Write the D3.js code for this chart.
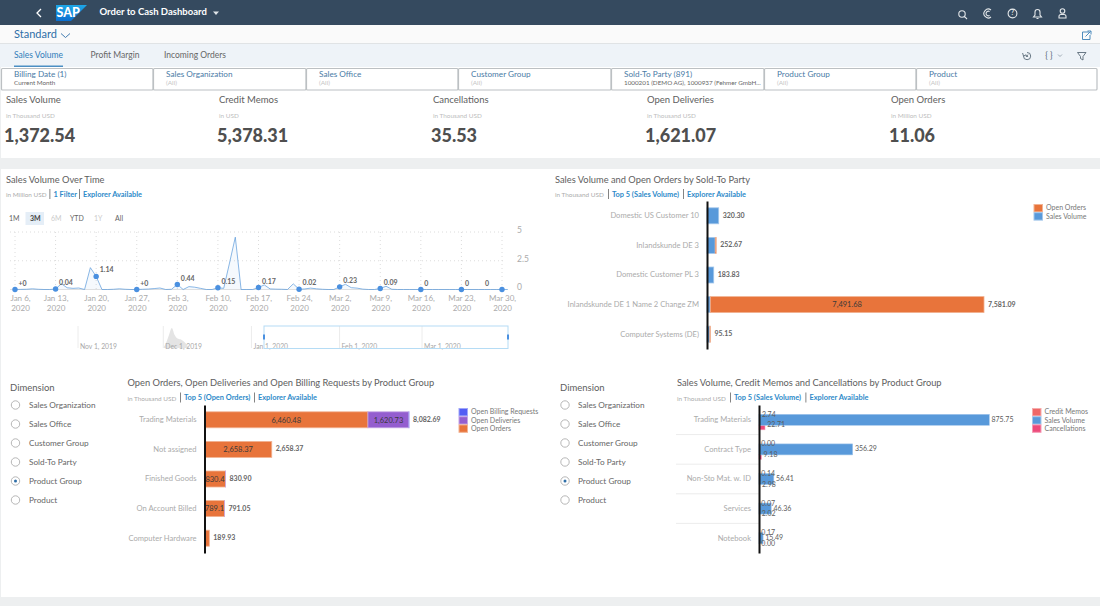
<!DOCTYPE html>
<html>
<head>
<meta charset="utf-8">
<script src="https://cdn.jsdelivr.net/npm/d3@7"></script>
<style>
  html, body { margin: 0; padding: 0; background: #fff; }
  svg { display: block; font-family: Lato, "Open Sans", sans-serif; }
</style>
</head>
<body>
<div id="page"></div>
<script>
// kpi row
const kpiTitles = ["Sales Volume", "Credit Memos", "Cancellations", "Open Deliveries", "Open Orders"];
const kpiUnits = ["in Thousand USD", "in USD", "in Thousand USD", "in Thousand USD", "in Million USD"];
const kpiValues = ["1,372.54", "5,378.31", "35.53", "1,621.07", "11.06"];

// filter bar
const filterNames = ["Billing Date (1)", "Sales Organization", "Sales Office", "Customer Group", "Sold-To Party (891)", "Product Group", "Product"];
const filterValues = ["Current Month", "(All)", "(All)", "(All)", "1000201 (DEMO AG), 1000937 (Fehmer GmbH...", "(All)", "(All)"];

// daily sales volume, Jan 6 to Mar 31 2020
const dailyVolume = [
  0, .01, .02, .06, .02, 0, 0,
  .04, .5, .15, .1, .13, 0, 1.9,
  1.14, 0, 0, .02, .06, .02, 0,
  0, .02, .04, .08, .13, 0, .02,
  .44, 0, .25, .2, .1, 0, 0,
  .15, .1, 2.3, 4.55, 0, 0, 0,
  .17, .4, .05, .03, .02, 0, .49,
  .02, .05, .12, .06, .02, 0, 0,
  .23, .45, .16, .12, .03, 0, 0,
  .09, .28, .02, 0, 0, 0, 0,
  0, 0, 0, 0, 0, 0, 0,
  0, 0, 0, 0, 0, 0, 0,
  0, 0
];
const weekDates = ["2020-01-06", "2020-01-13", "2020-01-20", "2020-01-27", "2020-02-03", "2020-02-10", "2020-02-17", "2020-02-24", "2020-03-02", "2020-03-09", "2020-03-16", "2020-03-23", "2020-03-30"];
const weekValues = [0, .04, 1.14, 0, .44, .15, .17, .02, .23, .09, 0, 0, 0];
const weekLabels = ["+0", "0.04", "1.14", "+0", "0.44", "0.15", "0.17", "0.02", "0.23", "0.09", "0", "0", "0"];
const volumeTicks = [0, 2.5, 5];

// range navigator under the line chart
const navDates = ["2019-12-01", "2019-12-02", "2019-12-03", "2019-12-04", "2019-12-05", "2019-12-06", "2019-12-07", "2019-12-08", "2019-12-09", "2019-12-10"];
const navValues = [0, 1.2, 3, 4.6, 3, 2.2, 2, 1.6, 1, 0];
const navTicks = ["2019-11-01", "2019-12-01", "2020-01-01", "2020-02-01", "2020-03-01"];
const navLabels = ["Nov 1, 2019", "Dec 1, 2019", "Jan 1, 2020", "Feb 1, 2020", "Mar 1, 2020"];

// sold-to party chart
const partyNames = ["Domestic US Customer 10", "Inlandskunde DE 3", "Domestic Customer PL 3", "Inlandskunde DE 1 Name 2 Change ZM", "Computer Systems (DE)"];
const partySales = [320.30, 225, 183.83, 89.41, 77];
const partyOrders = [0, 27.67, 0, 7491.68, 18.15];
const partyOrderLabels = ["", "", "", "7,491.68", ""];
const partyTotals = ["320.30", "252.67", "183.83", "7,581.09", "95.15"];

// open items by product group
const openGroups = ["Trading Materials", "Not assigned", "Finished Goods", "On Account Billed", "Computer Hardware"];
const openOrders = [6460.48, 2658.37, 830.4, 789.1, 189.93];
const openDeliveries = [1620.73, 0, .5, 1.95, 0];
const openBilling = [1.48, 0, 0, 0, 0];
const openOrderLabels = ["6,460.48", "2,658.37", "830.4", "789.1", ""];
const openDeliveryLabels = ["1,620.73", "", "", "", ""];
const openTotals = ["8,082.69", "2,658.37", "830.90", "791.05", "189.93"];

// sales by product group
const salesGroups = ["Trading Materials", "Contract Type", "Non-Sto Mat. w. ID", "Services", "Notebook"];
const salesVolume = [875.75, 356.29, 56.41, 46.36, 15.49];
const creditMemos = [2.74, 0, .14, .07, .17];
const cancellations = [22.71, 9.18, 2.98, 2.02, 0];

const dimensions = ["Sales Organization", "Sales Office", "Customer Group", "Sold-To Party", "Product Group", "Product"];

const colors = { orange: "#e8743b", blue: "#5899da", purple: "#945ecf", indigo: "#525df4", red: "#ee6868", pink: "#ed4a7b" };
const linkBlue = "#2d8ac9";
const mutedText = "#ababab";
const darkText = "#5e5e5e";

const edge = c => d3.interpolateRgb(c, "#fff")(0.45);
const fmt2 = d3.format(",.2f");
const parseDay = d3.utcParse("%Y-%m-%d");

const svg = d3.select("#page").append("svg").attr("width", 1100).attr("height", 606);

const text = (parent, x, y, str, size, fill, opts = {}) => parent.append("text")
  .attr("x", x).attr("y", y + .8)
  .attr("dominant-baseline", "middle")
  .attr("font-size", size)
  .attr("fill", fill)
  .attr("font-weight", opts.weight || 400)
  .attr("text-anchor", opts.anchor || "start")
  .text(str);

const box = (x, y, w, h, fill) => svg.append("rect").attr("x", x).attr("y", y).attr("width", w).attr("height", h).attr("fill", fill);

const icon = (d, stroke, width = 1.1) => svg.append("path").attr("d", d).attr("fill", "none").attr("stroke", stroke).attr("stroke-width", width);

const renderShell = () => {
  box(0, 0, 1100, 606, "#edeff0");
  box(0, 0, 1100, 25, "#354a5f");
  box(0, 25, 1100, 18, "#fafafa");
  box(0, 43, 1100, 1, "#e0e3e5");
  box(0, 44, 1100, 23, "#eef3f8");
  box(1, 67, 1099, 91, "#fff");
  box(1, 169, 1099, 428, "#fff");

  // back arrow and logo
  icon("M41 9 L37 13 L41 17", "#fff", 1.3);
  svg.append("defs").append("linearGradient").attr("id", "sapBlue").attr("x1", 0).attr("x2", 0).attr("y1", 0).attr("y2", 1)
    .call(g => g.append("stop").attr("offset", 0).attr("stop-color", "#1ea7e8"))
    .call(g => g.append("stop").attr("offset", 1).attr("stop-color", "#0a6fd0"));
  svg.append("path").attr("d", "M56 5 H87 L71 21 H56 Z").attr("fill", "url(#sapBlue)");
  text(svg, 56.5, 12.5, "SAP", 12.5, "#fff", { weight: 900 });
  text(svg, 99.5, 12.2, "Order to Cash Dashboard", 9.5, "#fff", { weight: 700 });
  svg.append("path").attr("d", "M213 11.5 H219 L216 15 Z").attr("fill", "#dfe4e8");

  // shell icons
  icon("M962 14 m-3.2 0 a3.2 3.2 0 1 0 6.4 0 a3.2 3.2 0 1 0 -6.4 0 M964.4 16.4 L967 19", "#e3e7ea");
  icon("M991 10 A4.4 4.4 0 1 0 991 17 M989.6 11.4 A2.4 2.4 0 1 0 989.6 15.6", "#e3e7ea");
  icon("M1012.5 13.5 m-4.4 0 a4.4 4.4 0 1 0 8.8 0 a4.4 4.4 0 1 0 -8.8 0", "#e3e7ea");
  text(svg, 1012.5, 13, "?", 6.5, "#e3e7ea", { anchor: "middle", weight: 700 });
  icon("M1033.5 17 H1041.5 L1040 15 V12 A2.5 2.5 0 0 0 1035 12 V15 Z M1036.5 18.5 H1038.5", "#e3e7ea");
  icon("M1062.5 11 m-2.3 0 a2.3 2.3 0 1 0 4.6 0 a2.3 2.3 0 1 0 -4.6 0 M1059 18 V16.5 Q1059 14.5 1061 14.5 H1064 Q1066 14.5 1066 16.5 V18 Z", "#e3e7ea");

  // variant row
  text(svg, 14, 34.5, "Standard", 11, "#2f6fa8");
  icon("M61 33.5 L65.5 37.5 L70 33.5", "#2f6fa8", 0.9);
  icon("M1089 32 H1082.5 V39.5 H1090 V35 M1085.5 36.5 L1090.5 31.5 M1087.5 31 H1091 V34.5", "#3b7fb5", 0.9);

  // tabs
  text(svg, 14, 55.5, "Sales Volume", 8.5, "#2f7cb8");
  text(svg, 90.5, 55.5, "Profit Margin", 8.5, "#666");
  text(svg, 164, 55.5, "Incoming Orders", 8.5, "#666");
  box(14, 65.5, 49, 1.5, "#4b8fc4");
  icon("M1027 52.5 A3.6 3.6 0 1 1 1023.5 56 M1022.6 53 L1023.5 56 L1026 55 M1026 54.6 L1028 57 M1028 54.6 L1026 57", "#5a6b78", 0.9);
  text(svg, 1049, 55.5, "{ }", 8.5, "#5a6b78", { anchor: "middle" });
  icon("M1058 54.5 L1060 56.5 L1062 54.5", "#8a98a3", 0.8);
  icon("M1077.5 52.5 H1086 L1083 56.5 V60 L1080.5 58.5 V56.5 Z", "#5a6b78", 0.9);
};

const renderFilters = () => {
  const edges = [2, 154, 307, 459, 612, 765, 917, 1098];
  filterNames.forEach((name, i) => {
    svg.append("rect").attr("x", edges[i] - .5).attr("y", 68.5)
      .attr("width", edges[i + 1] - edges[i] - .5).attr("height", 21.5)
      .attr("fill", "#fff").attr("stroke", "#bcc0c3").attr("stroke-width", 1.2).attr("rx", 1);
    text(svg, edges[i] + 12, 74.5, name, 8.2, "#4a7ba6");
    const muted = filterValues[i] === "(All)";
    text(svg, edges[i] + 12, 83, filterValues[i], muted ? 6.5 : 6.3, muted ? "#c4c4c4" : "#666");
  });
};

const renderKpis = () => {
  const xs = [6, 219, 433, 647, 891];
  kpiTitles.forEach((title, i) => {
    text(svg, xs[i], 100, title, 9.5, darkText);
    text(svg, xs[i], 115.5, kpiUnits[i], 6.4, "#bdbdbd");
    text(svg, xs[i] - 2, 137, kpiValues[i], 18, "#4f4f4f", { weight: 900 });
  });
};

// chart title plus the "unit | link | link" line below it
const chartHeader = (x, y, title, unit, links, seps) => {
  text(svg, x, y - .5, title, 9.3, darkText);
  text(svg, x, y + 15, unit, 6.4, mutedText);
  links.forEach((link, i) => {
    box(seps[i], y + 9, .8, 10, "#666");
    text(svg, seps[i] + 4, y + 14, link, 7.4, linkBlue, { weight: 700 });
  });
};

const legend = (x, y, items) => {
  items.forEach((item, i) => {
    svg.append("rect").attr("x", x + .5).attr("y", y + i * 8.2 + .5).attr("width", 8.5).attr("height", 7.4)
      .attr("fill", item.color).attr("stroke", edge(item.color));
    text(svg, x + 12.5, y + i * 8.2 + 3.8, item.name, 7, "#777");
  });
};

const renderVolumeChart = () => {
  chartHeader(6, 180, "Sales Volume Over Time", "in Million USD", ["1 Filter", "Explorer Available"], [49.5, 79]);

  // period buttons
  box(25.5, 212, 18.5, 13, "#e5eef7");
  [["1M", 9, "#666"], ["3M", 30, "#444"], ["6M", 51, "#ccc"], ["YTD", 70, "#666"], ["1Y", 94, "#ccc"], ["All", 115, "#666"]]
    .forEach(([label, x, fill]) => text(svg, x, 218, label, 7, fill, { weight: label === "3M" ? 700 : 400 }));

  const xScale = d3.scaleUtc().domain([parseDay(weekDates[0]), parseDay(weekDates[12])]).range([15, 502]);
  const yScale = d3.scaleLinear().domain([0, 5]).range([289.5, 232]);
  const days = dailyVolume.map((v, i) => d3.utcDay.offset(parseDay(weekDates[0]), i));

  const g = svg.append("g");

  g.selectAll(".hgrid").data(volumeTicks).join("line")
    .attr("x1", 10).attr("x2", 504)
    .attr("y1", d => yScale(d)).attr("y2", d => yScale(d))
    .attr("stroke", d => d === 0 ? "#e2e2e2" : "#dcdcdc")
    .attr("stroke-dasharray", d => d === 0 ? null : "1 3");
  g.selectAll(".vgrid").data(weekDates).join("line")
    .attr("x1", d => xScale(parseDay(d))).attr("x2", d => xScale(parseDay(d)))
    .attr("y1", yScale(5)).attr("y2", yScale(0))
    .attr("stroke", "#dcdcdc").attr("stroke-dasharray", "1 3");

  g.append("g")
    .attr("transform", "translate(511,0)")
    .call(d3.axisRight(yScale).tickValues(volumeTicks).tickSize(0).tickPadding(6).tickFormat(d3.format("")))
    .call(a => a.select(".domain").remove())
    .call(a => a.selectAll("text").attr("font-size", 8.5).attr("font-family", "Lato").attr("fill", mutedText).attr("dy", "0.05em"));

  g.append("g")
    .attr("transform", "translate(0,293.5)")
    .call(d3.axisBottom(xScale).tickValues(weekDates.map(parseDay)).tickSize(0).tickPadding(3).tickFormat(() => ""))
    .call(a => a.select(".domain").remove())
    .call(a => a.selectAll("text").each(function (d, i) {
      const t = d3.select(this).attr("font-size", 8).attr("font-family", "Lato").attr("fill", mutedText);
      const nudge = i === 0 ? 5 : 0; // first label is kept inside the panel
      t.append("tspan").attr("x", nudge).attr("dy", "0.6em").text(d3.utcFormat("%b %-d,")(d));
      t.append("tspan").attr("x", nudge).attr("dy", "1.17em").text(d3.utcFormat("%Y")(d));
    }));

  const line = d3.line().x((d, i) => xScale(days[i])).y(d => yScale(d));
  const area = d3.area().x((d, i) => xScale(days[i])).y0(yScale(0)).y1(d => yScale(d));
  g.append("path").attr("d", area(dailyVolume)).attr("fill", colors.blue).attr("opacity", .06);
  g.append("path").attr("d", line(dailyVolume)).attr("fill", "none").attr("stroke", colors.blue).attr("stroke-width", 1).attr("opacity", .7);

  g.selectAll(".dot").data(weekValues).join("circle")
    .attr("cx", (d, i) => xScale(parseDay(weekDates[i])))
    .attr("cy", d => yScale(d))
    .attr("r", 2.7)
    .attr("fill", "#4a90e0");

  weekValues.forEach((v, i) => {
    const px = xScale(parseDay(weekDates[i]));
    if (i === 12) text(g, px - 15, yScale(v) - 6.5, weekLabels[i], 7, "#666", { anchor: "middle", weight: 700 });
    else text(g, px + 3.5, yScale(v) - 6.5, weekLabels[i], 7, "#666", { weight: 700 });
  });

  // navigator
  const navX = d3.scaleUtc().domain([parseDay(navTicks[0]), parseDay(navTicks[4])]).range([78, 422]);
  const navY = d3.scaleLinear().domain([0, 4.6]).range([348, 328]);
  const navArea = d3.area().x((d, i) => navX(parseDay(navDates[i]))).y0(navY(0)).y1(d => navY(d)).curve(d3.curveMonotoneX);
  g.append("path").attr("d", navArea(navValues)).attr("fill", "#e4e4e4");
  navTicks.forEach((d, i) => {
    g.append("line").attr("x1", navX(parseDay(d))).attr("x2", navX(parseDay(d))).attr("y1", 326).attr("y2", 348).attr("stroke", "#ececec");
    text(g, navX(parseDay(d)) + 2, 346, navLabels[i], 6.8, "#a8a8a8");
  });
  g.append("rect").attr("x", 264).attr("y", 326).attr("width", 244).attr("height", 22.5)
    .attr("fill", "none").attr("stroke", "#b5dcf5").attr("stroke-width", 1);
  [263, 507].forEach(x => g.append("rect").attr("x", x).attr("y", 334.5).attr("width", 2).attr("height", 5).attr("fill", "#4a90e0"));
};

// horizontal stacked bars, one series after the other
const stackedBars = ({ cats, series, totals, axisX, yRange, pxPerUnit }) => {
  const rows = cats.map((c, i) => {
    const row = { cat: c };
    series.forEach(s => { row[s.name] = s.values[i]; });
    return row;
  });
  const stack = d3.stack().keys(series.map(s => s.name))(rows);

  const y = d3.scaleBand().domain(cats).range(yRange).paddingInner(.46).paddingOuter(.23);
  const maxTotal = d3.max(rows, r => d3.sum(series, s => r[s.name]));
  const x = d3.scaleLinear().domain([0, maxTotal]).range([axisX, axisX + maxTotal * pxPerUnit]);

  const g = svg.append("g");

  stack.forEach((layer, si) => {
    const s = series[si];
    g.append("g").selectAll("rect").data(layer.filter(d => d[1] > d[0])).join("rect")
      .attr("x", d => x(d[0]))
      .attr("y", d => y(d.data.cat))
      .attr("width", d => x(d[1]) - x(d[0]))
      .attr("height", y.bandwidth())
      .attr("fill", s.color)
      .attr("stroke", edge(s.color))
      .attr("stroke-width", .8);
    if (s.labels) {
      layer.forEach((d, i) => {
        if (s.labels[i]) text(g, (x(d[0]) + x(d[1])) / 2, y(d.data.cat) + y.bandwidth() / 2, s.labels[i], 7.5, "#3a3a3a", { anchor: "middle" });
      });
    }
  });

  rows.forEach((r, i) => {
    const total = d3.sum(series, s => r[s.name]);
    text(g, x(total) + 4, y(r.cat) + y.bandwidth() / 2 - .5, totals[i], 7, "#666", { weight: 700 });
  });

  categoryAxis(y, axisX);
};

const categoryAxis = (y, axisX) => {
  svg.append("g")
    .attr("transform", `translate(${axisX},0)`)
    .call(d3.axisLeft(y).tickSize(0).tickPadding(8))
    .call(a => a.select(".domain").attr("stroke", "#111").attr("stroke-width", 2))
    .call(a => a.selectAll("text").attr("font-size", 7.6).attr("font-family", "Lato").attr("fill", mutedText));
};

// grouped bars: credit memos, sales volume, cancellations
const renderSalesChart = () => {
  chartHeader(677, 383.5, "Sales Volume, Credit Memos and Cancellations by Product Group", "in Thousand USD", ["Top 5 (Sales Volume)", "Explorer Available"], [730, 805.5]);
  legend(1032, 408, [
    { name: "Credit Memos", color: colors.red },
    { name: "Sales Volume", color: colors.blue },
    { name: "Cancellations", color: colors.pink }
  ]);

  const axisX = 759;
  const y = d3.scaleBand().domain(salesGroups).range([405, 553]);
  const x = d3.scaleLinear().domain([0, d3.max(salesVolume)]).range([axisX, 989.3]);
  const mid = c => y(c) + y.bandwidth() / 2;
  const g = svg.append("g");

  salesGroups.slice(0, -1).forEach(c => {
    g.append("line").attr("x1", 676).attr("x2", axisX).attr("y1", y(c) + y.bandwidth()).attr("y2", y(c) + y.bandwidth()).attr("stroke", "#ececec");
  });

  const barSet = [
    { values: creditMemos, color: colors.red, h: 5, shift: -7.5, labelShift: -5.5 },
    { values: cancellations, color: colors.pink, h: 5, shift: 7.5, labelShift: 5 },
    { values: salesVolume, color: colors.blue, h: 11, shift: 0, labelShift: -.5 }
  ];
  barSet.forEach(set => {
    g.append("g").selectAll("rect").data(set.values).join("rect")
      .attr("x", axisX)
      .attr("y", (d, i) => mid(salesGroups[i]) + set.shift - set.h / 2)
      .attr("width", d => x(d) - axisX)
      .attr("height", set.h)
      .attr("fill", set.color)
      .attr("stroke", edge(set.color))
      .attr("stroke-width", d => d > 5 ? .6 : 0);
  });
  barSet.forEach(set => {
    set.values.forEach((v, i) => {
      text(g, x(v) + 2.2, mid(salesGroups[i]) + set.labelShift, fmt2(v), 7, "#5c5c5c");
    });
  });

  categoryAxis(y, axisX);
};

const renderDimensions = (x, radioX, labelX) => {
  text(svg, x, 387.5, "Dimension", 9.5, darkText);
  dimensions.forEach((d, i) => {
    const cy = 405 + i * 19;
    svg.append("circle").attr("cx", radioX).attr("cy", cy).attr("r", 4.2).attr("fill", "#fff").attr("stroke", "#a5a5a5").attr("stroke-width", .8);
    if (d === "Product Group") svg.append("circle").attr("cx", radioX).attr("cy", cy).attr("r", 1.5).attr("fill", "#2f6fa8");
    text(svg, labelX, cy, d, 8.2, "#666");
  });
};

renderShell();
renderFilters();
renderKpis();
renderVolumeChart();

chartHeader(555, 180, "Sales Volume and Open Orders by Sold-To Party", "in Thousand USD", ["Top 5 (Sales Volume)", "Explorer Available"], [608, 683]);
legend(1033.5, 204, [
  { name: "Open Orders", color: colors.orange },
  { name: "Sales Volume", color: colors.blue }
]);
stackedBars({
  cats: partyNames,
  series: [
    { name: "Sales Volume", values: partySales, color: colors.blue },
    { name: "Open Orders", values: partyOrders, color: colors.orange, labels: partyOrderLabels }
  ],
  totals: partyTotals,
  axisX: 707,
  yRange: [201, 349],
  pxPerUnit: 0.03654
});

renderDimensions(10, 15.5, 29);
chartHeader(127.5, 383.5, "Open Orders, Open Deliveries and Open Billing Requests by Product Group", "in Thousand USD", ["Top 5 (Open Orders)", "Explorer Available"], [180, 254]);
legend(458.5, 408, [
  { name: "Open Billing Requests", color: colors.indigo },
  { name: "Open Deliveries", color: colors.purple },
  { name: "Open Orders", color: colors.orange }
]);
stackedBars({
  cats: openGroups,
  series: [
    { name: "Open Orders", values: openOrders, color: colors.orange, labels: openOrderLabels },
    { name: "Open Deliveries", values: openDeliveries, color: colors.purple, labels: openDeliveryLabels },
    { name: "Open Billing Requests", values: openBilling, color: colors.indigo }
  ],
  totals: openTotals,
  axisX: 204.5,
  yRange: [405, 553],
  pxPerUnit: 0.0253
});

renderDimensions(560, 565, 578);
renderSalesChart();
</script>
</body>
</html>
